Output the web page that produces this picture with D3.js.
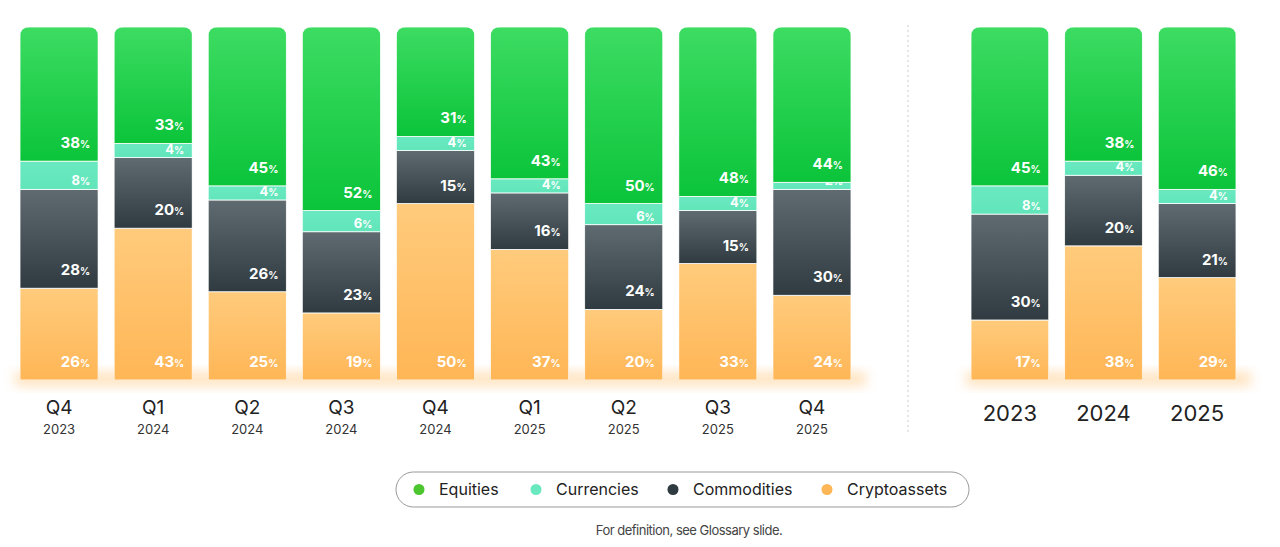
<!DOCTYPE html><html><head><meta charset="utf-8"><script src="https://cdn.jsdelivr.net/npm/d3@7"></script>
<style>body{margin:0;background:#fff}text{font-family:Inter,"Noto Sans",sans-serif}</style></head><body><svg id="c" width="1280" height="547"></svg><script>
const quarters=["Q4","Q1","Q2","Q3","Q4","Q1","Q2","Q3","Q4"];
const quarterYears=["2023","2024","2024","2024","2024","2025","2025","2025","2025"];
const years=["2023","2024","2025"];
const series=["Cryptoassets","Commodities","Currencies","Equities"];
const qCrypto=[26,43,25,19,50,37,20,33,24];
const qCommod=[28,20,26,23,15,16,24,15,30];
const qCurr=[8,4,4,6,4,4,6,4,2];
const qEq=[38,33,45,52,31,43,50,48,44];
const yCrypto=[17,38,29];
const yCommod=[30,20,21];
const yCurr=[8,4,4];
const yEq=[45,38,46];
const svg=d3.select("#c");
const defs=svg.append("defs");
function grad(id,a,b){const g=defs.append("linearGradient").attr("id",id).attr("x1",0).attr("x2",0).attr("y1",0).attr("y2",1);g.append("stop").attr("offset",0).attr("stop-color",a);g.append("stop").attr("offset",1).attr("stop-color",b);}
grad("gEq","#3ddc62","#0bc43a");grad("gCo","#5f6b70","#2f3b40");grad("gCr","#ffcb7c","#ffb656");grad("gCu","#6ae9c0","#62e5ba");
const fills={Equities:"url(#gEq)",Currencies:"url(#gCu)",Commodities:"url(#gCo)",Cryptoassets:"url(#gCr)"};
const f=defs.append("filter").attr("id","glow").attr("x","-20%").attr("y","-50%").attr("width","140%").attr("height","200%");
f.append("feGaussianBlur").attr("stdDeviation",6);
const y=d3.scaleLinear().domain([0,100]).range([380,27]);
function draw(cats,data,x0,x1,isQ){
  const x=d3.scaleBand().domain(d3.range(cats.length)).range([x0,x1]).paddingInner(0.17).paddingOuter(0);
  const bw=x.bandwidth();
  const rows=cats.map((c,i)=>({i,Cryptoassets:data[0][i],Commodities:data[1][i],Currencies:data[2][i],Equities:data[3][i]}));
  const st=d3.stack().keys(series)(rows);
  svg.append("rect").attr("x",x0-5).attr("width",x1-x0+20).attr("y",372).attr("height",14).attr("fill","#ffc070").attr("opacity",0.45).attr("filter","url(#glow)");
  cats.forEach((c,i)=>{
    const cp=defs.append("clipPath").attr("id","cp"+x0+"_"+i);
    cp.append("path").attr("d",`M${x(i)},380V${y(100)+10}Q${x(i)},${y(100)} ${x(i)+10},${y(100)}H${x(i)+bw-10}Q${x(i)+bw},${y(100)} ${x(i)+bw},${y(100)+10}V380Z`);
  });
  st.forEach(s=>{
    s.forEach((d,i)=>{
      const g=svg.append("g").attr("clip-path",`url(#cp${x0}_${i})`);
      g.append("rect").attr("x",x(i)).attr("width",bw).attr("y",y(d[1])).attr("height",y(d[0])-y(d[1])).attr("fill",fills[s.key]).attr("stroke","#fff").attr("stroke-width",0.8);
      const t=svg.append("text").attr("x",x(i)+bw-8).attr("y",y(d[0])-(s.key==="Currencies"?4:13)).attr("text-anchor","end").attr("fill","#fff").attr("font-weight",700).attr("font-size",s.key==="Currencies"?13:15);
      t.append("tspan").text(d[1]-d[0]);t.append("tspan").attr("font-size",10).text("%");
    });
  });
  cats.forEach((c,i)=>{
    const cx=x(i)+bw/2;
    if(isQ){svg.append("text").attr("x",cx).attr("y",414).attr("text-anchor","middle").attr("font-size",19).attr("fill","#222").text(c);
      svg.append("text").attr("x",cx).attr("y",434).attr("text-anchor","middle").attr("font-size",13).attr("fill","#333").text(quarterYears[i]);}
    else svg.append("text").attr("x",cx).attr("y",421).attr("text-anchor","middle").attr("font-size",22).attr("fill","#222").text(c);
  });
}
draw(quarters,[qCrypto,qCommod,qCurr,qEq],20,851,true);
draw(years,[yCrypto,yCommod,yCurr,yEq],971,1236,false);
svg.append("line").attr("x1",908).attr("x2",908).attr("y1",25).attr("y2",432).attr("stroke","#ccc").attr("stroke-dasharray","2,3");
svg.append("rect").attr("x",396).attr("y",472).attr("width",573).attr("height",35).attr("rx",17.5).attr("fill","#fff").attr("stroke","#999");
const leg=[["Equities","#4cc62e",419],["Currencies","#6ae9c0",536],["Commodities","#2f3b40",673],["Cryptoassets","#ffb656",827]];
leg.forEach(([n,c,lx])=>{svg.append("circle").attr("cx",lx).attr("cy",489.5).attr("r",5.5).attr("fill",c);
  svg.append("text").attr("x",lx+20).attr("y",495).attr("font-size",16).attr("fill","#222").text(n);});
svg.append("text").attr("x",689).attr("y",535).attr("text-anchor","middle").attr("font-size",13).attr("letter-spacing",-0.5).attr("fill","#444").text("For definition, see Glossary slide.");
</script></body></html>
